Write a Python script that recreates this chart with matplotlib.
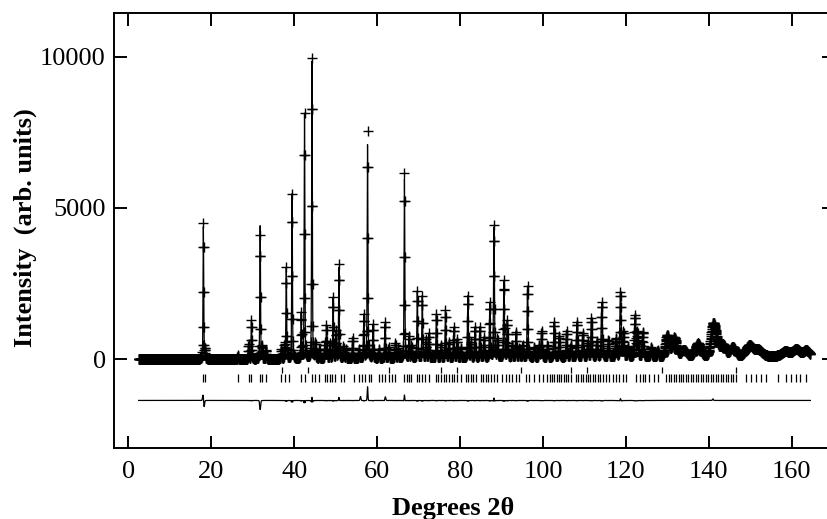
import numpy as np
import matplotlib
matplotlib.use("Agg")
import matplotlib.pyplot as plt

# ---------------- data ----------------
# sharp Bragg peaks: position (deg 2theta) and observed height (arb. units)
peak_pos = [18.1, 18.5, 26.4, 29.0, 29.7, 31.8, 32.3, 33.2, 36.9, 37.7, 38.1, 39.5,
            41.7, 42.5, 44.3, 45.1, 46.1, 47.4, 47.8, 48.6, 49.4, 50.1, 50.8, 51.9,
            52.5, 54.1, 55.6, 56.8, 57.7, 59.0, 60.4, 61.9, 62.8, 64.4, 65.0, 66.6,
            67.7, 68.3, 69.7, 70.9, 71.8, 72.5, 74.3, 75.4, 76.5, 77.3, 78.5, 79.3,
            80.2, 81.9, 82.6, 83.6, 84.8, 85.8, 87.2, 88.2, 89.0, 90.6, 91.4, 92.6,
            93.5, 94.3, 95.1, 96.3, 97.9, 99.1, 99.7, 101.1, 102.7, 103.9, 105.7, 106.7,
            108.2, 109.6, 110.8, 111.7, 113.0, 114.2, 115.8, 117.6, 118.7, 119.4, 120.5,
            122.2, 122.8, 124.1, 126.1, 127.7]
peak_height = [4480, 300, 120, 500, 1280, 4100, 400, 300, 300, 500, 3000, 5450,
               1500, 8100, 9920, 500, 300, 500, 1100, 500, 2000, 900, 3100, 400,
               300, 660, 300, 1430, 7500, 1100, 300, 1200, 350, 500, 300, 6100,
               700, 400, 2200, 2050, 600, 800, 1430, 400, 1560, 500, 1000, 600,
               300, 2040, 500, 1000, 1000, 660, 1800, 4380, 600, 2530, 1200, 400,
               840, 300, 400, 2350, 320, 400, 870, 400, 1150, 700, 840, 400,
               1150, 790, 500, 1260, 500, 1790, 540, 600, 2130, 800, 300,
               1340, 800, 810, 300, 200]

# broad high-angle features: position, height, FWHM
broad_pos = [130.0, 131.7, 134.0, 137.4, 141.0, 141.8, 143.4, 145.8, 149.8, 152.0,
             158.5, 161.1, 163.5]
broad_height = [700, 620, 220, 420, 950, 450, 380, 300, 350, 200, 150, 220, 180]
broad_fwhm = [1.0, 1.2, 1.5, 1.5, 1.2, 1.2, 1.5, 1.5, 2.0, 2.0, 2.0, 2.0, 1.5]

# background nodes
bg_x = [2.5, 30.0, 60.0, 100.0, 140.0, 165.0]
bg_y = [0.0, 0.0, 30.0, 60.0, 90.0, 110.0]

# misfit (obs - calc) features seen in the difference curve
misfit_pos = [18.0, 18.3, 31.8, 44.3, 50.8, 56.0, 57.7, 62.0, 66.6, 88.2, 118.7, 141.0]
misfit_amp = [220, -180, -300, 100, 100, 130, 450, 130, 180, 80, 60, 50]
misfit_fraction = 0.015

# reflection markers
phase2_ticks = [37.0, 43.3, 62.8, 75.4, 79.3, 94.7, 106.8, 110.7, 128.8, 146.5]
phase1_ticks = [18.0, 18.5, 26.4, 29.0, 29.6, 31.7, 32.2, 33.2, 36.9, 37.7, 38.7,
                41.7, 42.5, 44.3, 45.1, 46.1, 47.4, 48.0, 48.6, 49.2, 49.9, 51.2,
                52.0, 54.4, 55.6, 56.4, 57.2, 58.0, 58.6, 60.4, 61.2, 62.0, 62.8,
                63.6, 64.4, 66.5, 67.1, 67.7, 68.3, 69.6, 70.2, 70.9, 71.5, 72.5,
                74.2, 74.8, 75.4, 76.1, 76.7, 77.3, 78.0, 78.6, 79.3, 80.2, 81.4,
                82.0, 82.6, 83.2, 83.8, 85.0, 85.6, 86.2, 86.8, 87.4, 88.2, 89.0,
                90.2, 91.0, 91.8, 92.6, 93.5, 94.3, 95.9, 96.7, 97.9, 99.1, 99.9,
                101.1, 101.6, 102.2, 102.7, 103.3, 103.9, 104.4, 105.0, 105.6, 106.1,
                106.7, 108.0, 108.5, 109.1, 109.7, 110.3, 110.8, 111.4, 112.0, 112.6,
                113.2, 113.8, 114.4, 115.2, 116.0, 116.8, 117.6, 118.4, 119.2, 120.0,
                122.5, 123.3, 124.1, 124.5, 125.7, 126.9, 127.7, 129.7, 130.3, 130.9,
                131.5, 132.1, 132.7, 133.3, 133.9, 134.5, 135.1, 135.7, 136.3, 136.9,
                137.5, 138.1, 138.7, 139.3, 139.9, 140.5, 141.1, 141.7, 142.3, 142.9,
                143.5, 144.1, 144.7, 145.3, 145.9, 146.6, 149.0, 150.2, 151.4, 152.6,
                153.9, 156.7, 158.7, 159.9, 161.1, 161.9, 163.5]

x_ticks = [0, 20, 40, 60, 80, 100, 120, 140, 160]
y_ticks = [0, 5000, 10000]

# ---------------- profile model ----------------
tth = np.arange(2.5, 164.55, 0.05)


def pvoigt(x, x0, fwhm, eta=0.3):
    g = np.exp(-4 * np.log(2) * ((x - x0) / fwhm) ** 2)
    l = 1.0 / (1.0 + 4 * ((x - x0) / fwhm) ** 2)
    return eta * l + (1 - eta) * g


def fwhm_of(x0):
    t = np.tan(np.radians(x0 / 2))
    return np.sqrt(0.03 * t ** 2 - 0.01 * t + 0.04)


bg = np.interp(tth, bg_x, bg_y)
sharp = np.zeros_like(tth)
for p, h in zip(peak_pos, peak_height):
    sharp = sharp + h * pvoigt(tth, p, fwhm_of(p))
broad = np.zeros_like(tth)
for p, h, w in zip(broad_pos, broad_height, broad_fwhm):
    broad = broad + h * pvoigt(tth, p, w, eta=0.1)
obs = bg + sharp + broad

# calculated profile: slightly different peak shape -> small residuals at peaks
calc_sharp = np.zeros_like(tth)
for p, h in zip(peak_pos, peak_height):
    calc_sharp = calc_sharp + h * pvoigt(tth, p, fwhm_of(p) * 1.03, eta=0.3)
diff = misfit_fraction * (sharp - calc_sharp) / 0.03
for p, a in zip(misfit_pos, misfit_amp):
    diff = diff + a * pvoigt(tth, p, 0.25, eta=0.0)
calc = obs - diff

diff_offset = -1370
ph2_level = -365
ph1_level = -640

# ---------------- drawing ----------------
plt.rcParams['font.family'] = ['Liberation Serif', 'DejaVu Serif']

fig = plt.figure(figsize=(8.28, 5.19), dpi=100)
W, H = 828.0, 519.0
ax = fig.add_axes([114 / W, 1 - 448.3 / H, (834 - 114) / W, (448.3 - 12.7) / H])

ax.plot(tth, obs, linestyle='none', marker='+', markersize=7, markeredgewidth=1.0,
        color='black')
ax.plot(tth, calc, color='black', linewidth=0.9)
ax.plot(tth, diff + diff_offset, color='black', linewidth=0.9)

ax.plot(phase2_ticks, [ph2_level] * len(phase2_ticks), linestyle='none', marker='|',
        markersize=5, markeredgewidth=0.9, color='black')
ax.plot(phase1_ticks, [ph1_level] * len(phase1_ticks), linestyle='none', marker='|',
        markersize=5.5, markeredgewidth=0.9, color='black')

ax.set_xlim(-3.45, 170.2)
ax.set_ylim(-2953, 11455)
ax.set_xticks(x_ticks)
ax.set_yticks(y_ticks)
ax.tick_params(direction='in', length=9, width=1.4, top=True, right=True,
               labelsize=19)
ax.tick_params(axis='x', pad=9)
ax.tick_params(axis='y', pad=6)
for s in ax.spines.values():
    s.set_linewidth(1.4)

ax.set_xlabel('Degrees 2θ', fontsize=19, fontweight='bold')
ax.set_ylabel('Intensity  (arb. units)', fontsize=19, fontweight='bold')
ax.xaxis.set_label_coords((453 - 114) / (834 - 114), -(508 - 448.3) / (448.3 - 12.7))
ax.yaxis.set_label_coords(-(114 - 25) / (834 - 114), (448.3 - 228) / (448.3 - 12.7))
ax.xaxis.label.set_va('center')
ax.yaxis.label.set_va('center')

fig.savefig('out.png', dpi=100)
